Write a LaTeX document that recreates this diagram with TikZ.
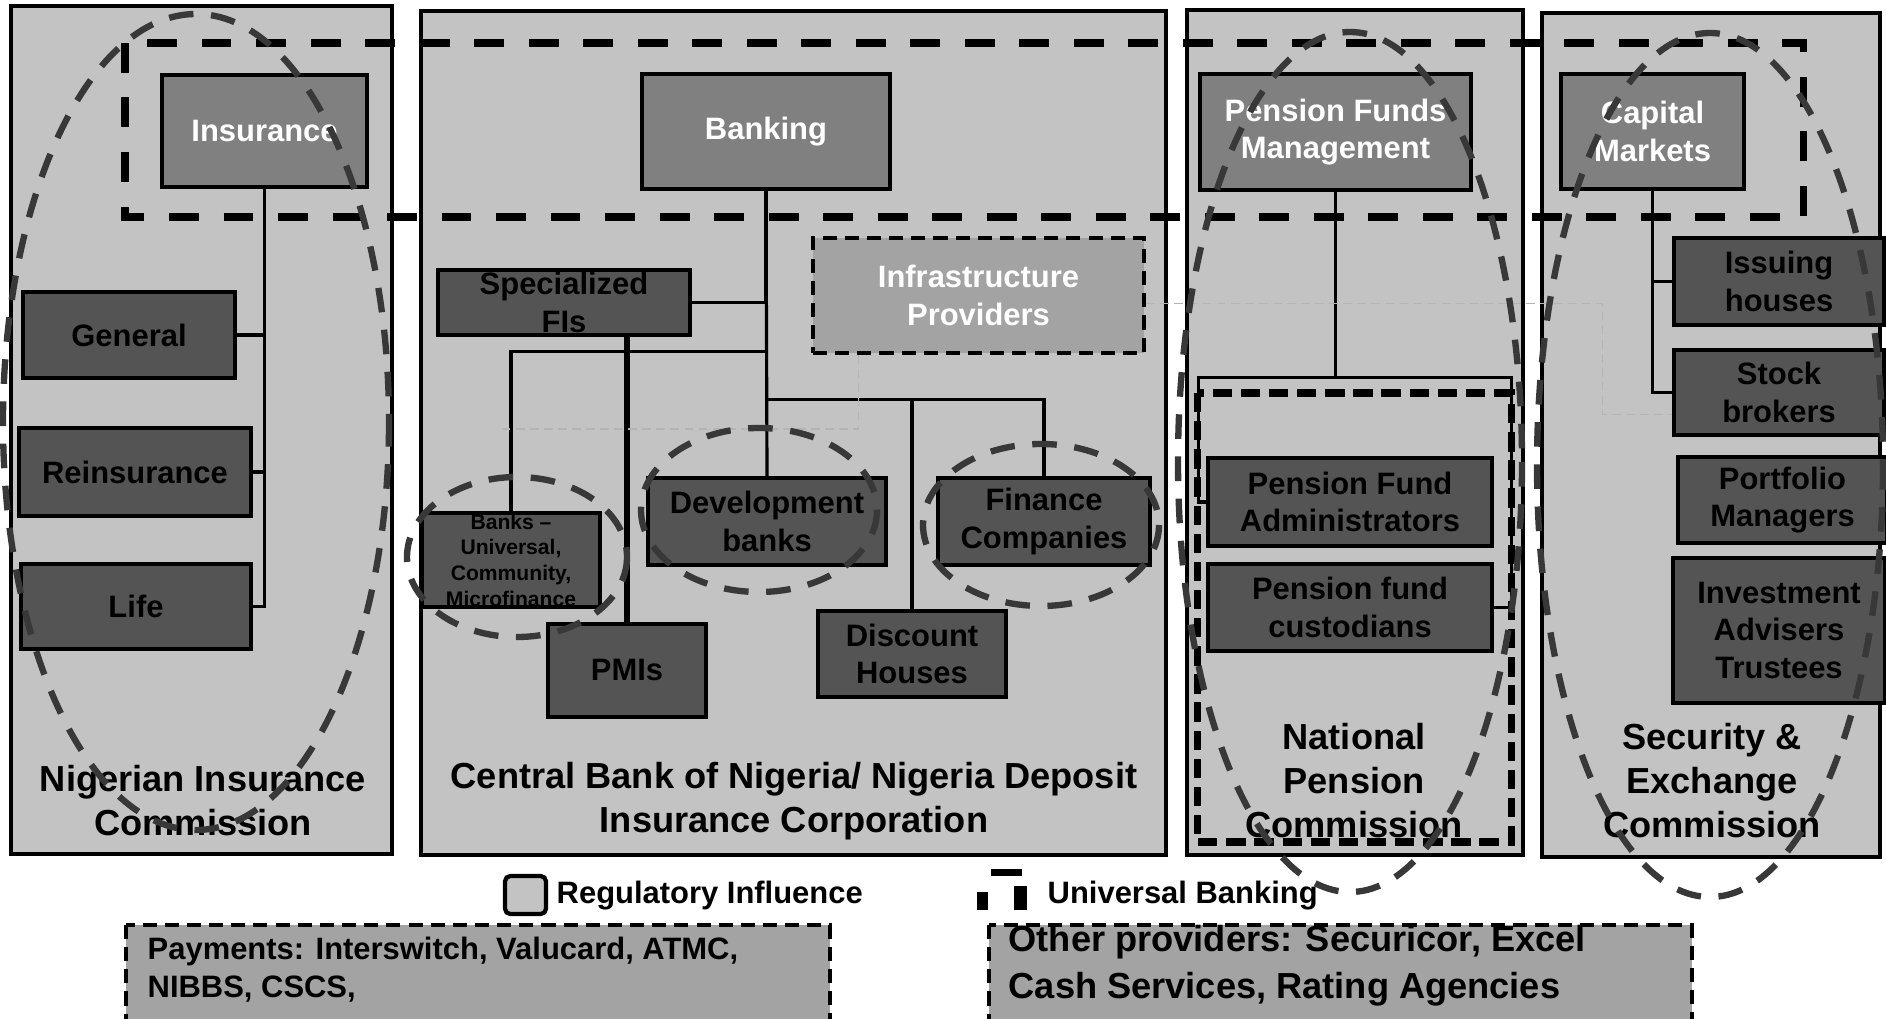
\documentclass[tikz,border=0pt]{standalone}
\usepackage{fontspec}
\setmainfont{Liberation Sans}
\usetikzlibrary{calc}

\definecolor{panelgray}{HTML}{C3C3C3}
\definecolor{headgray}{HTML}{808080}
\definecolor{unitgray}{HTML}{545454}
\definecolor{infragray}{HTML}{A3A3A3}
\definecolor{ringgray}{HTML}{383838}
\definecolor{linkgray}{HTML}{B4B4B4}

\tikzset{
  boxsize/.style 2 args={minimum width=#1*0.01cm,minimum height=#2*0.01cm},
  panel/.style={draw,line width=1.1pt,fill=panelgray},
  headbox/.style={draw,line width=1pt,fill=headgray,text=white,inner sep=0pt,align=center,
    font=\fontsize{8.8}{10.6}\selectfont\bfseries},
  unitbox/.style={draw,line width=1pt,fill=unitgray,inner sep=0pt,align=center,
    font=\fontsize{8.8}{10.6}\selectfont\bfseries},
  title/.style={align=center,font=\fontsize{10.3}{12.5}\selectfont\bfseries},
  legtext/.style={anchor=west,inner sep=0pt,font=\fontsize{8.8}{10.6}\selectfont\bfseries},
  tree/.style={line width=0.9pt},
  ubline/.style={line width=2pt,dash pattern=on 8.5pt off 7pt},
  ring/.style={draw=ringgray,line width=1.8pt,dash pattern=on 7pt off 5pt},
  link/.style={draw=linkgray,line width=0.4pt,dash pattern=on 2.5pt off 1.5pt},
  extbox/.style={draw,fill=infragray,line width=1.3pt,dash pattern=on 4pt off 2.3pt}
}

\begin{document}
\begin{tikzpicture}[x=0.01cm,y=-0.01cm]
\useasboundingbox (0,0) rectangle (1886,1019);
\clip (0,0) rectangle (1886,1019);

% regulators
\draw[panel] (11,6) rectangle (392,854);
\draw[panel] (421,11) rectangle (1166,855);
\draw[panel] (1187,10) rectangle (1523,855);
\draw[panel] (1542,13) rectangle (1880,857);

\node[title] (nictitle) at (203,801) {Nigerian Insurance\\Commission};
\node[title] (cbntitle) at (794,801) {Central Bank of Nigeria/ Nigeria Deposit\\Insurance Corporation};
\node[title] (pentitle) at (1354,781) {National\\Pension\\Commission};
\node[title] (sectitle) at (1712,781) {Security \&\\Exchange\\Commission};

% universal banking
\draw[ubline] (125,43) rectangle (1803,217);
\draw[line width=2pt,dash pattern=on 5.5pt off 2.5pt] (1197,393) rectangle (1511,842);

% insurance
\node[headbox,boxsize={205}{112}] (ins) at (264.5,131) {Insurance};
\node[unitbox,boxsize={212}{86}] (gen) at (129,335) {General};
\node[unitbox,boxsize={232}{88}] (reins) at (135,472) {Reinsurance};
\node[unitbox,boxsize={230}{85}] (life) at (136,606.5) {Life};
\draw[tree] (gen.east) -| (ins.south);
\draw[tree] (reins.east) -| (ins.south);
\draw[tree] (life.east) -| (ins.south);

% banking
\node[headbox,boxsize={248}{115}] (bank) at (766,131.5) {Banking};
\node[unitbox,boxsize={252}{65}] (fis) at (564,302.5) {Specialized\\FIs};
\node[extbox,text=white,inner sep=0pt,align=center,font=\fontsize{8.8}{10.6}\selectfont\bfseries,
  boxsize={331}{115}] (infra) at (978.5,295.5) {Infrastructure\\Providers};
\node[unitbox,boxsize={178}{94},font=\fontsize{6}{7.3}\selectfont\bfseries] (banksu) at (511,560)
  {Banks --\\Universal,\\Community,\\Microfinance};
\node[unitbox,boxsize={238}{87}] (dev) at (767,521.5) {Development\\banks};
\node[unitbox,boxsize={212}{87}] (fin) at (1044,521.5) {Finance\\Companies};
\node[unitbox,boxsize={158}{93}] (pmi) at (627,670.5) {PMIs};
\node[unitbox,boxsize={188}{86}] (disc) at (912,654) {Discount\\Houses};
\path (bank.south) ++(0,161) coordinate (bkjoin) ++(0,48) coordinate (dvjoin);
\draw[tree] (bank.south) -- (dev.north);
\draw[tree] (fis.east) -| (bank.south);
\draw[tree] (banksu.north) |- (bkjoin);
\draw[tree] (disc.north) |- (dvjoin);
\draw[tree] (fin.north) |- (dvjoin);
\draw[line width=1.6pt] (pmi.north) -- (pmi.north |- fis.south);

% pensions
\node[headbox,boxsize={271}{116}] (pfm) at (1335.5,132) {Pension Funds\\Management};
\node[unitbox,boxsize={284}{88}] (pfa) at (1350,502) {Pension Fund\\Administrators};
\node[unitbox,boxsize={284}{87}] (pfc) at (1350,607.5) {Pension fund\\custodians};
\path (pfm.south) ++(0,186) coordinate (pnjoin);
\draw[tree] (pfm.south) -- (pnjoin);
\draw[tree] (pfa.west) -- ++(-8,0) |- (pnjoin);
\draw[tree] (pfc.east) -- ++(18,0) |- (pnjoin);

% capital markets
\node[headbox,boxsize={183}{115}] (cap) at (1652.5,131.5) {Capital\\Markets};
\node[unitbox,boxsize={210}{87}] (iss) at (1779,281.5) {Issuing\\houses};
\node[unitbox,boxsize={210}{85}] (stk) at (1779,392.5) {Stock\\brokers};
\node[unitbox,boxsize={209}{86}] (port) at (1782.5,500) {Portfolio\\Managers};
\node[unitbox,boxsize={212}{145}] (inv) at (1779,630.5) {Investment\\Advisers\\Trustees};
\draw[tree] (iss.west) -| (cap.south);
\draw[tree] (stk.west) -| (cap.south);

% infrastructure links
\coordinate (linkend) at (499,429);
\draw[link] ($(infra.south west)+(48,0)$) |- (linkend);
\draw[link] ($(infra.east)+(0,8)$) -- ++(456,0) |- ($(stk.west)+(0,22)$);

% regulatory influence
\draw[ring] (196,422) ellipse [x radius=193, y radius=408];
\draw[ring] (1350,462) ellipse [x radius=172, y radius=430];
\draw[ring] (1710,465) ellipse [x radius=173, y radius=432];
\draw[ring] (517,557) ellipse [x radius=110, y radius=80];
\draw[ring] (759,510) ellipse [x radius=118, y radius=82];
\draw[ring] (1041,525) ellipse [x radius=118, y radius=81];

% legend
\draw[line width=1.2pt,fill=panelgray,rounded corners=1.5pt] (505,876) rectangle (546,914);
\node[legtext] (reglab) at (556,896) {Regulatory Influence};
\fill (991,869) rectangle (1022,876);
\fill (977,892) rectangle (988,910);
\fill (1014,886) rectangle (1027,910);
\node[legtext] (ublab) at (1047,896) {Universal Banking};

% other providers
\draw[extbox] (126,925) rectangle (830,1045);
\node[legtext,align=left,font=\fontsize{8.8}{10.8}\selectfont\bfseries] (paylab) at (147,970)
  {Payments: Interswitch, Valucard, ATMC,\\NIBBS, CSCS,};
\draw[extbox] (989,925) rectangle (1692,1045);
\node[legtext,align=left,font=\fontsize{10.3}{13.4}\selectfont\bfseries] (othlab) at (1008,966)
  {Other providers: Securicor, Excel\\Cash Services, Rating Agencies};
\end{tikzpicture}
\end{document}
